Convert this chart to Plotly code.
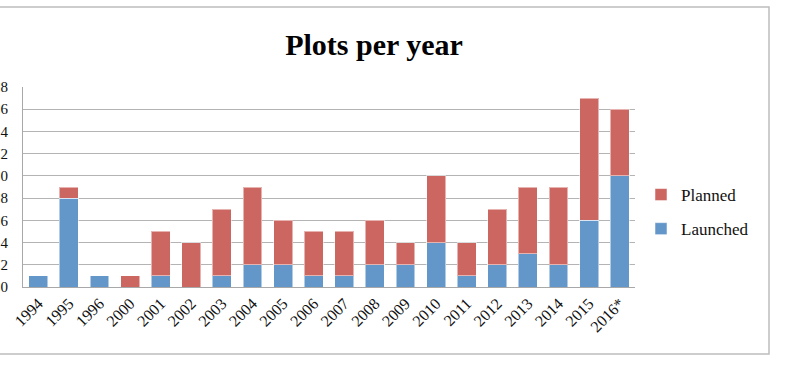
import plotly.graph_objects as go

years = ["1994", "1995", "1996", "2000", "2001", "2002", "2003", "2004", "2005", "2006",
         "2007", "2008", "2009", "2010", "2011", "2012", "2013", "2014", "2015", "2016*"]
launched = [1, 8, 1, 0, 1, 0, 1, 2, 2, 1, 1, 2, 2, 4, 1, 2, 3, 2, 6, 10]
planned = [0, 1, 0, 1, 4, 4, 6, 7, 4, 4, 4, 4, 2, 6, 3, 5, 6, 7, 11, 6]
y_ticks = [0, 2, 4, 6, 8, 10, 12, 14, 16, 18]

BLUE = "#6497C9"
RED = "#CC6661"
FONT = "Liberation Serif"

fig = go.Figure()
fig.add_trace(go.Bar(x=years, y=launched, name="Launched", marker_color=BLUE,
                     marker_line=dict(color="rgba(255,255,255,0.5)", width=1),
                     legendgroup="a", legendrank=2))
fig.add_trace(go.Bar(x=years, y=planned, name="Planned", marker_color=RED,
                     marker_line=dict(color="rgba(255,255,255,0.5)", width=1),
                     legendgroup="b", legendrank=1))

L, R, T, B = 23, 165, 87, 78
W, H = 800, 365
pw = W - L - R
ph = H - T - B

def px_x(p):
    return (p - L) / pw

def px_y(p):
    return (H - B - p) / ph

fig.update_layout(
    width=W, height=H,
    margin=dict(l=L, r=R, t=T, b=B, autoexpand=False),
    barmode="stack",
    bargap=0.38,
    plot_bgcolor="white",
    paper_bgcolor="white",
    font=dict(family=FONT, color="#111111", size=14),
    title=dict(text="<b>Plots per year</b>", font=dict(family=FONT, size=30, color="#000000"),
               x=374 / W, xanchor="center", y=1 - 44 / H, yanchor="middle"),
    xaxis=dict(tickangle=-45, showgrid=False, showline=True, linecolor="#A8A8A8",
               linewidth=1, ticks="", tickfont=dict(family=FONT, size=16), fixedrange=True,
               automargin=False),
    yaxis=dict(range=[0, 18], tickvals=y_ticks, showgrid=True, gridcolor="#B4B4B4",
               gridwidth=1, showline=True, linecolor="#A8A8A8", linewidth=1,
               ticks="outside", ticklen=11, tickcolor="rgba(0,0,0,0)",
               tickfont=dict(family=FONT, size=15), zeroline=False, automargin=False),
    legend=dict(x=px_x(641), xanchor="left", y=px_y(177), yanchor="top",
                traceorder="grouped", tracegroupgap=9,
                font=dict(family=FONT, size=17, color="#111111"),
                itemwidth=30, bgcolor="rgba(0,0,0,0)"),
    showlegend=True,
    shapes=[dict(type="rect", xref="paper", yref="paper",
                 x0=px_x(-20), x1=px_x(769), y0=px_y(354), y1=px_y(7),
                 line=dict(color="#BDBDBD", width=1.5), layer="below")],
)

fig.write_html("out.html", config={"displayModeBar": False},
               post_script="document.body.style.margin='0';document.body.style.overflow='hidden';")
